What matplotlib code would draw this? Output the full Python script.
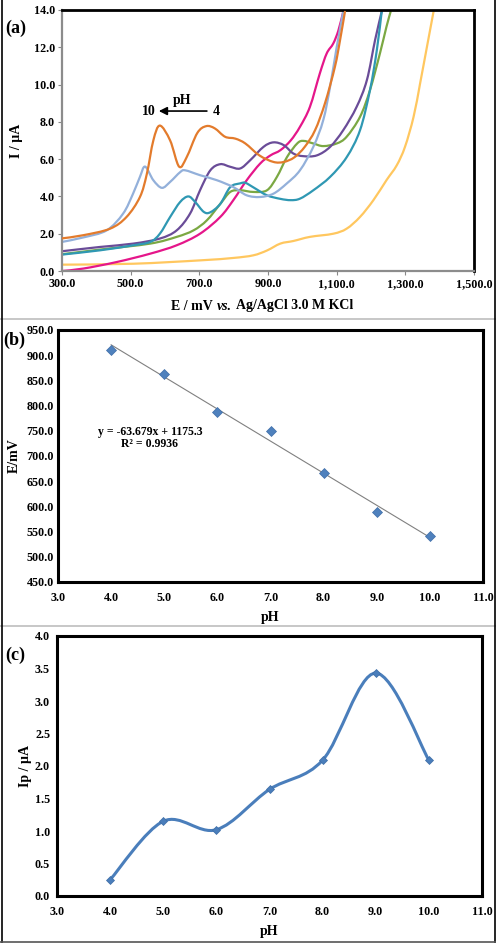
import numpy as np
import matplotlib
matplotlib.use("Agg")
import matplotlib.pyplot as plt
from matplotlib.path import Path
from matplotlib.patches import PathPatch
from matplotlib.lines import Line2D
from matplotlib.offsetbox import TextArea, HPacker, AnchoredOffsetbox

plt.rcParams['font.family'] = ['Liberation Serif', 'DejaVu Serif']
plt.rcParams['font.weight'] = 'bold'

# ---------------- Data: panel (a) voltammograms ----------------
orange_E = [300, 362, 440, 488, 527, 547, 566, 585, 615, 641, 663, 694, 720, 745, 775, 805, 834, 875, 916, 946, 977, 1007, 1037, 1066, 1095, 1110, 1124]
orange_I = [1.75, 1.92, 2.27, 2.9, 3.97, 5.2, 7.0, 7.8, 7.0, 5.6, 6.1, 7.4, 7.77, 7.65, 7.2, 7.1, 6.84, 6.2, 5.85, 5.85, 6.1, 6.66, 7.55, 9.0, 10.96, 12.4, 13.9]

lblue_E = [300, 362, 430, 478, 507, 527, 542, 566, 591, 615, 644, 659, 702, 751, 799, 838, 877, 916, 955, 993, 1032, 1061, 1081, 1100, 1119]
lblue_I = [1.56, 1.8, 2.18, 3.08, 4.15, 5.05, 5.6, 4.87, 4.46, 4.78, 5.3, 5.4, 5.14, 4.87, 4.5, 4.06, 3.97, 4.15, 4.7, 5.4, 6.66, 8.1, 9.9, 12.0, 13.9]

teal_E = [300, 411, 508, 557, 585, 615, 644, 668, 688, 713, 732, 761, 790, 819, 834, 858, 897, 936, 966, 993, 1032, 1081, 1129, 1168, 1197, 1217, 1231]
teal_I = [0.88, 1.11, 1.38, 1.56, 2.0, 2.9, 3.7, 4.0, 3.7, 3.17, 3.15, 3.6, 4.5, 4.7, 4.73, 4.48, 4.06, 3.87, 3.8, 3.88, 4.33, 5.05, 6.1, 7.55, 9.7, 11.85, 13.9]

purple_E = [300, 411, 508, 585, 634, 673, 702, 732, 761, 790, 819, 848, 887, 916, 946, 974, 1003, 1042, 1081, 1119, 1158, 1188, 1212, 1231]
purple_I = [1.06, 1.29, 1.47, 1.74, 2.18, 3.08, 4.33, 5.4, 5.73, 5.59, 5.5, 5.94, 6.66, 6.9, 6.75, 6.3, 6.16, 6.2, 6.66, 7.55, 8.8, 10.24, 12.4, 13.9]

green_E = [300, 411, 557, 634, 683, 722, 761, 790, 819, 858, 897, 926, 955, 985, 1003, 1032, 1061, 1100, 1129, 1168, 1197, 1226, 1245, 1257]
green_I = [0.9, 1.15, 1.47, 1.83, 2.18, 2.72, 3.6, 4.24, 4.33, 4.24, 4.33, 5.05, 6.1, 6.84, 6.98, 6.84, 6.7, 6.84, 7.2, 8.27, 9.7, 11.67, 13.1, 13.9]

magenta_E = [300, 362, 459, 557, 634, 702, 761, 799, 838, 877, 907, 936, 966, 993, 1022, 1051, 1071, 1090, 1105, 1119]
magenta_I = [0.0, 0.13, 0.48, 0.93, 1.38, 2.0, 2.9, 3.8, 4.87, 5.76, 6.2, 6.48, 7.0, 7.73, 8.8, 10.6, 11.67, 12.2, 12.9, 13.9]

yellow_E = [300, 508, 702, 799, 857, 897, 936, 974, 1022, 1090, 1129, 1168, 1207, 1245, 1275, 1299, 1324, 1343, 1363, 1382]
yellow_I = [0.34, 0.39, 0.57, 0.7, 0.84, 1.1, 1.47, 1.61, 1.83, 2.0, 2.27, 2.9, 3.8, 4.87, 5.67, 6.66, 8.27, 10.06, 12.03, 13.9]

# ---------------- Data: panels (b) and (c) ----------------
pH = [4.0, 5.0, 6.0, 7.0, 8.0, 9.0, 10.0]
Ep = [910.4, 862.8, 788.2, 749.2, 666.0, 589.4, 540.5]
Ip = [0.25, 1.15, 1.02, 1.64, 2.09, 3.43, 2.09]
slope, intercept = -63.679, 1175.3

xticks_a = [300, 500, 700, 900, 1100, 1300, 1500]
xticklabels_a = ['300.0', '500.0', '700.0', '900.0', '1,100.0', '1,300.0', '1,500.0']
yticks_a = [0, 2, 4, 6, 8, 10, 12, 14]
xticks_bc = [3, 4, 5, 6, 7, 8, 9, 10, 11]
yticks_b = [450, 500, 550, 600, 650, 700, 750, 800, 850, 900, 950]
yticks_c = [0.0, 0.5, 1.0, 1.5, 2.0, 2.5, 3.0, 3.5, 4.0]


def smooth_path(x, y):
    """Bezier path (Excel-style smoothed line) through the given points."""
    p = np.column_stack([x, y]).astype(float)
    n = len(p)
    verts = [p[0]]
    codes = [Path.MOVETO]
    for i in range(n - 1):
        p0 = p[i - 1] if i > 0 else p[i]
        p1 = p[i]
        p2 = p[i + 1]
        p3 = p[i + 2] if i + 2 < n else p[i + 1]
        c1 = p1 + (p2 - p0) / 6.0
        c2 = p2 - (p3 - p1) / 6.0
        verts += [c1, c2, p2]
        codes += [Path.CURVE4] * 3
    return Path(verts, codes)


def draw_smooth(ax, x, y, color, lw, z=2):
    patch = PathPatch(smooth_path(x, y), facecolor='none', edgecolor=color,
                      lw=lw, transform=ax.transData, zorder=z, capstyle='round',
                      joinstyle='round')
    ax.add_patch(patch)


W, H = 496, 943
fig = plt.figure(figsize=(W / 100, H / 100), dpi=100)

tick_fs = 8.7
lab_fs = 10

# ---------------- Panel (a) ----------------
axa = fig.add_axes([62 / W, 1 - 271 / H, (474 - 62) / W, (271 - 10) / H])
axa.set_xlim(300, 1500)
axa.set_ylim(0, 14)
curves = [
    (yellow_E, yellow_I, '#FFC75F'),
    (magenta_E, magenta_I, '#E5168A'),
    (green_E, green_I, '#7BA843'),
    (purple_E, purple_I, '#6A4C98'),
    (teal_E, teal_I, '#2F98B3'),
    (lblue_E, lblue_I, '#93B0DA'),
    (orange_E, orange_I, '#E37B2C'),
]
for k, (E, I, c) in enumerate(curves):
    draw_smooth(axa, E, I, c, 1.6, z=2 + k * 0.1)
axa.set_xticks(xticks_a)
axa.set_xticklabels(xticklabels_a)
axa.set_yticks(yticks_a)
axa.set_yticklabels([f'{v:.1f}' for v in yticks_a])
axa.tick_params(axis='both', labelsize=tick_fs, length=3, width=0.8,
                color='#888888', direction='out', pad=2)
for lab in axa.get_xticklabels() + axa.get_yticklabels():
    lab.set_fontweight('bold')
for s in ['top', 'right']:
    axa.spines[s].set_color('black')
    axa.spines[s].set_linewidth(2.0)
for s in ['left', 'bottom']:
    axa.spines[s].set_color('#8C8C8C')
    axa.spines[s].set_linewidth(1.6)

# x label with italic "vs."
tp = dict(fontsize=lab_fs, fontweight='bold', family=['Liberation Serif'])
tpi = dict(fontsize=lab_fs, fontweight='bold', fontstyle='italic', family=['Liberation Serif'])
xlab = HPacker(children=[TextArea('E / mV', textprops=tp),
                         TextArea('vs.', textprops=tpi),
                         TextArea('Ag/AgCl 3.0 M KCl', textprops=tp)],
               align='baseline', pad=0, sep=3)
fig.add_artist(AnchoredOffsetbox(loc='center', child=xlab, frameon=False, pad=0,
                                 borderpad=0, bbox_to_anchor=(262 / W, 1 - 306 / H),
                                 bbox_transform=fig.transFigure))
axa.set_ylabel('I / µA', fontsize=lab_fs, fontweight='bold', labelpad=8)
fig.text(5 / W, 1 - 28 / H, '(a)', fontsize=13, fontweight='bold', va='center', ha='left')

# arrow annotation
axa.annotate('', xy=(582, 8.58), xytext=(722, 8.58),
             arrowprops=dict(arrowstyle='-|>', color='black', lw=1.2,
                             mutation_scale=12, shrinkA=0, shrinkB=0))
axa.text(553, 8.58, '10', fontsize=10, fontweight='bold', ha='center', va='center')
axa.text(748, 8.58, '4', fontsize=10, fontweight='bold', ha='center', va='center')
axa.text(650, 9.17, 'pH', fontsize=10, fontweight='bold', ha='center', va='center')

# ---------------- Panel (b) ----------------
axb = fig.add_axes([58 / W, 1 - 582 / H, (483 - 58) / W, (582 - 330) / H])
axb.set_xlim(3, 11)
axb.set_ylim(450, 950)
xfit = np.array([pH[0], pH[-1]])
axb.plot(xfit, slope * xfit + intercept, color='#808080', lw=0.8, zorder=2)
axb.plot(pH, Ep, linestyle='none', marker='D', markersize=5,
         markerfacecolor='#4F81BD', markeredgecolor='#3F6EA8', markeredgewidth=0.5, zorder=3)
axb.text(4.73, 747, 'y = -63.679x + 1175.3', fontsize=8.5, fontweight='bold',
         ha='center', va='center')
axb.text(4.73, 724, 'R² = 0.9936', fontsize=8.5, fontweight='bold',
         ha='center', va='center')
axb.set_xticks(xticks_bc)
axb.set_xticklabels([f'{v:.1f}' for v in xticks_bc])
axb.set_yticks(yticks_b)
axb.set_yticklabels([f'{v:.1f}' for v in yticks_b])
axb.tick_params(axis='both', labelsize=tick_fs, length=0)
axb.tick_params(axis='x', pad=7)
axb.tick_params(axis='y', pad=3)
for lab in axb.get_xticklabels() + axb.get_yticklabels():
    lab.set_fontweight('bold')
for s in axb.spines.values():
    s.set_color('black')
    s.set_linewidth(2.2)
axb.set_xlabel('pH', fontsize=lab_fs, fontweight='bold', labelpad=5)
axb.set_ylabel('E/mV', fontsize=lab_fs, fontweight='bold', labelpad=4)
fig.text(3 / W, 1 - 340 / H, '(b)', fontsize=13, fontweight='bold', va='center', ha='left')

# ---------------- Panel (c) ----------------
axc = fig.add_axes([57 / W, 1 - 896 / H, (482 - 57) / W, (896 - 636) / H])
axc.set_xlim(3, 11)
axc.set_ylim(0, 4)
draw_smooth(axc, pH, Ip, '#4A7EBB', 2.2, z=2)
axc.plot(pH, Ip, linestyle='none', marker='D', markersize=4,
         markerfacecolor='#4A7EBB', markeredgecolor='#3D6DA6', markeredgewidth=0.5, zorder=3)
axc.set_xticks(xticks_bc)
axc.set_xticklabels([f'{v:.1f}' for v in xticks_bc])
axc.set_yticks(yticks_c)
axc.set_yticklabels([f'{v:.1f}' for v in yticks_c])
axc.tick_params(axis='both', labelsize=tick_fs, length=0)
axc.tick_params(axis='x', pad=7)
axc.tick_params(axis='y', pad=5)
for lab in axc.get_xticklabels() + axc.get_yticklabels():
    lab.set_fontweight('bold')
for s in axc.spines.values():
    s.set_color('black')
    s.set_linewidth(2.2)
axc.set_xlabel('pH', fontsize=lab_fs, fontweight='bold', labelpad=5)
axc.set_ylabel('Ip / µA', fontsize=lab_fs, fontweight='bold', labelpad=2)
fig.text(5 / W, 1 - 655 / H, '(c)', fontsize=13, fontweight='bold', va='center', ha='left')

# ---------------- Figure frame and separators ----------------
fig.add_artist(Line2D([0, 1], [1 - 319 / H, 1 - 319 / H], color='#BDBDBD', lw=1.2))
fig.add_artist(Line2D([0, 1], [1 - 626 / H, 1 - 626 / H], color='#BDBDBD', lw=1.2))
fig.add_artist(Line2D([1.5 / W, 1.5 / W], [0, 1], color='black', lw=1.2))
fig.add_artist(Line2D([1 - 1.5 / W, 1 - 1.5 / W], [0, 1], color='black', lw=1.2))
fig.add_artist(Line2D([0, 1], [1.5 / H, 1.5 / H], color='#555555', lw=1.2))

fig.savefig('out.png', dpi=100)
